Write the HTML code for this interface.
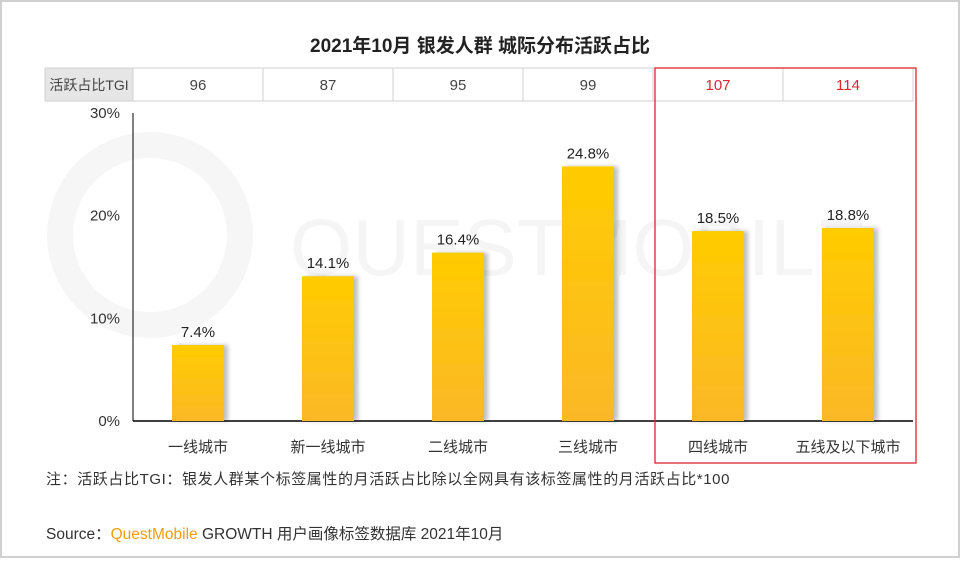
<!DOCTYPE html>
<html><head><meta charset="utf-8"><style>
body{margin:0;width:960px;height:558px;background:#fff;overflow:hidden;font-family:"Liberation Sans","Noto Sans CJK SC",sans-serif;}
svg text{font-family:"Liberation Sans","Noto Sans CJK SC",sans-serif;}
</style></head><body>
<svg id="c" width="960" height="558">
<defs>
<linearGradient id="g" x1="0" y1="0" x2="0" y2="1"><stop offset="0" stop-color="#ffcc00"/><stop offset="1" stop-color="#fbb827"/></linearGradient>
<filter id="sh" x="-20%" y="-5%" width="150%" height="110%"><feDropShadow dx="4" dy="0" stdDeviation="2" flood-color="#000" flood-opacity="0.25"/></filter>
</defs>
<rect x="1" y="1" width="958" height="556" fill="none" stroke="#d0d0d0" stroke-width="2"/>
<text x="480" y="52" text-anchor="middle" font-size="19" font-weight="bold" fill="#222">2021年10月 银发人群 城际分布活跃占比</text>
<g id="tbl"></g>
<g id="wm" opacity="0.035">
<circle cx="150" cy="235" r="90" fill="none" stroke="#000" stroke-width="26"/>
<text x="290" y="275" font-size="80" fill="#000">QUESTMOBILE</text>
</g>
<g id="plot"></g>
<rect x="655" y="68" width="261" height="395" fill="none" stroke="#d9272e" stroke-width="1.3"/>
<text x="46" y="484" font-size="15" letter-spacing="0.6" fill="#333">注：活跃占比TGI：银发人群某个标签属性的月活跃占比除以全网具有该标签属性的月活跃占比*100</text>
<text x="46" y="539" font-size="15.5" fill="#333">Source：<tspan fill="#f39c12">QuestMobile</tspan> GROWTH 用户画像标签数据库 2021年10月</text>
</svg>
<script>
const categories=["一线城市","新一线城市","二线城市","三线城市","四线城市","五线及以下城市"];
const values=[7.4,14.1,16.4,24.8,18.5,18.8];
const tgi=[96,87,95,99,107,114];
const ticks=[0,10,20,30];
const NS="http://www.w3.org/2000/svg";
const x0=133,x1=913,y0=421,y1=113,vmax=30;
const step=(x1-x0)/categories.length;
const xc=i=>x0+step*(i+0.5);
const y=v=>y0-(v/vmax)*(y0-y1);
function mk(t,a,p,txt){const e=document.createElementNS(NS,t);for(const k in a)e.setAttribute(k,a[k]);if(txt!==undefined)e.textContent=txt;p.appendChild(e);return e;}
const plot=document.getElementById('plot'),tbl=document.getElementById('tbl');
let r=mk('rect',{x:45,y:68,width:88,height:33,fill:'#e6e6e6',stroke:'#d0d0d0'},tbl);


let t=mk('text',{x:89,y:90,'text-anchor':'middle','font-size':14,fill:'#444'},tbl,'活跃占比TGI');


tgi.forEach((v,i)=>{
 const c=mk('rect',{x:x0+step*i,y:68,width:step,height:33,fill:'#fff',stroke:'#d0d0d0'},tbl);
 
 
 const tt=mk('text',{x:xc(i),y:90,'text-anchor':'middle','font-size':15,fill:i>=4?'#d9272e':'#444'},tbl,String(v));
 
 
});
ticks.forEach(v=>{
 const l=mk('text',{x:120,y:y(v)+5,'text-anchor':'end','font-size':15,fill:'#333'},plot,v+'%');
 
 
});
let a=mk('line',{x1:x0,y1:y1,x2:x0,y2:y0,stroke:'#000','stroke-width':1},plot);


a=mk('line',{x1:x0,y1:y0,x2:x1,y2:y0,stroke:'#000','stroke-width':1.5},plot);


values.forEach((v,i)=>{
 const b=mk('rect',{x:xc(i)-26,y:y(v),width:52,height:y0-y(v),fill:'url(#g)',filter:'url(#sh)'},plot);
 
 
 const l=mk('text',{x:xc(i),y:y(v)-8,'text-anchor':'middle','font-size':15,fill:'#222'},plot,v.toFixed(1)+'%');
 
 
 const c=mk('text',{x:xc(i),y:452,'text-anchor':'middle','font-size':15,fill:'#333'},plot,categories[i]);
 
 
});
</script>
</body></html>
